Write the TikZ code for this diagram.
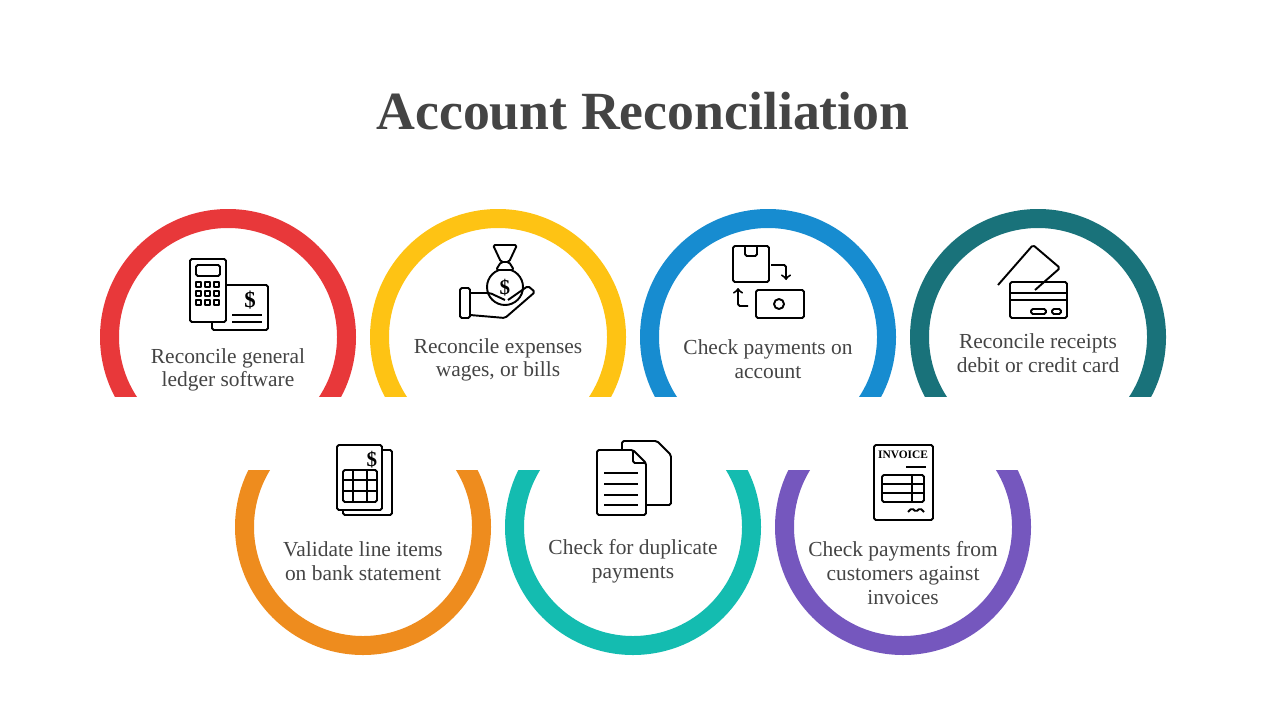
\documentclass[tikz,border=0pt]{standalone}
\usepackage{fontspec}
\setmainfont{Liberation Serif}
\definecolor{cred}{HTML}{E8383A}
\definecolor{cyellow}{HTML}{FEC314}
\definecolor{cblue}{HTML}{178CD0}
\definecolor{cteal}{HTML}{19727A}
\definecolor{corange}{HTML}{EE8C1E}
\definecolor{cgreen}{HTML}{14BCB0}
\definecolor{cpurple}{HTML}{7557BE}
\definecolor{ctext}{HTML}{444444}
\begin{document}
\begin{tikzpicture}[x=0.02cm,y=-0.02cm,
    ring/.style={draw=#1, line width=0.38cm},
    label/.style={text=ctext, font=\fontsize{12.2}{13.5}\selectfont, align=center},
    icon/.style={draw=black, line width=1.1pt, line join=round, rounded corners=1pt},
    ]
    \useasboundingbox (0,0) rectangle (1280,720);
    % Title
    \node [text=ctext, font=\fontsize{30.6}{34}\selectfont\bfseries] (title) at (643,111) {Account Reconciliation};

    % Top rings
    \begin{scope}
      \clip (0,0) rectangle (1280,396);
      \foreach \cx/\col in {228/cred, 498/cyellow, 768/cblue, 1038/cteal}
        \draw [ring=\col] (\cx,337) circle (118.5);
    \end{scope}
    % Bottom rings
    \begin{scope}
      \clip (0,470) rectangle (1280,720);
      \foreach \cx/\col in {363/corange, 633/cgreen, 903/cpurple}
        \draw [ring=\col] (\cx,527) circle (118.5);
    \end{scope}

    % Labels
    \node [label] (l1) at (228,370) {Reconcile general\\ledger software};
    \node [label] (l2) at (498,360) {Reconcile expenses\\wages, or bills};
    \node [label] (l3) at (768,359) {Check payments on\\account};
    \node [label] (l4) at (1038,353) {Reconcile receipts\\debit or credit card};
    \node [label] (l5) at (363,561) {Validate line items\\on bank statement};
    \node [label] (l6) at (633,561) {Check for duplicate\\payments};
    \node [label] (l7) at (903,573) {Check payments from\\customers against\\invoices};

    % Icon: calculator and receipt
    \draw [icon] (212,285) rectangle (268,330);
    \draw [icon, fill=white] (190,259) rectangle (226,322);
    \draw [icon] (196,265) rectangle (220,276);
    \foreach \i in {0,1,2} \foreach \j in {0,1,2}
      \draw [icon, rounded corners=0pt] (196+\i*9,282+\j*9) rectangle ++(5,5);
    \node [font=\bfseries\fontsize{13}{13}\selectfont] (dollar1) at (250,300) {\$};
    \foreach \yy in {315,322} \draw [icon] (232,\yy) -- (262,\yy);

    % Icon: money bag in hand
    \draw [icon] (505,287) circle (18);
    \draw [icon, fill=white] (496,270) -- (514,270) -- (509,262) -- (501,262) -- cycle;
    \draw [icon] (493,245) -- (517,245) -- (509,262) -- (501,262) -- cycle;
    \node [font=\bfseries\fontsize{12}{12}\selectfont] (dollar2) at (505,288) {\$};
    \draw [icon] (460,288) rectangle (470,318);
    \draw [icon] (470,293) -- (490,293) -- (505,300);
    \draw [icon] (470,315) -- (505,318) -- (535,292) -- (528,286) -- (508,300);

    % Icon: box and bill
    \draw [icon] (733,246) rectangle (769,282);
    \draw [icon] (745,246) -- (745,256) -- (757,256) -- (757,246);
    \draw [icon] (756,290) rectangle (804,318);
    \draw [icon] (779,304) circle (5);
    \draw [icon, ->] (771,265) -- (786,265) -- (786,280);
    \draw [icon, ->] (748,306) -- (738,306) -- (738,288);

    % Icon: cards
    \draw [icon] (998,285) -- (1033,245) -- (1060,268) -- (1035,290);
    \draw [icon] (1010,282) rectangle (1067,318);
    \draw [icon] (1010,293) -- (1067,293);
    \draw [icon] (1010,300) -- (1067,300);
    \draw [icon] (1031,309) rectangle (1046,314);
    \draw [icon] (1052,309) rectangle (1061,314);

    % Icon: statement
    \draw [icon] (343,450) rectangle (392,515);
    \draw [icon, fill=white] (337,445) -- (382,445) -- (382,510) -- (337,510) -- cycle;
    \node [font=\bfseries\fontsize{12}{12}\selectfont] (dollar3) at (372,460) {\$};
    \draw [icon] (343,470) rectangle (377,502);
    \draw [icon] (343,480) -- (377,480) (343,491) -- (377,491) (353,470) -- (353,502) (367,470) -- (367,502);

    % Icon: duplicate documents
    \draw [icon] (622,441) -- (657,441) -- (671,455) -- (671,505) -- (622,505) -- cycle;
    \draw [icon, fill=white] (597,450) -- (633,450) -- (646,463) -- (646,515) -- (597,515) -- cycle;
    \draw [icon] (633,450) -- (633,463) -- (646,463);
    \foreach \yy in {473,484,495,505} \draw [icon] (604,\yy) -- (638,\yy);

    % Icon: invoice
    \draw [icon] (874,445) rectangle (933,520);
    \node [font=\bfseries\fontsize{6.5}{7}\selectfont] (inv) at (903,455) {INVOICE};
    \draw [icon] (906,467) -- (926,467);
    \draw [icon] (882,475) rectangle (924,502);
    \draw [icon] (882,484) -- (924,484) (882,493) -- (924,493) (912,475) -- (912,502);
    \draw [icon] (908,512) -- (912,508) -- (916,512) -- (920,508) -- (924,512);
  \end{tikzpicture}
\end{document}
